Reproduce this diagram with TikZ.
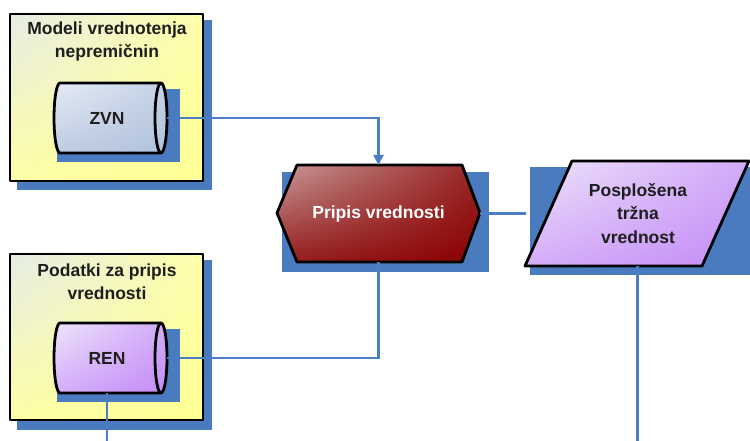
\documentclass[tikz,border=0pt]{standalone}
\usepackage{fontspec}
\setmainfont{Liberation Sans}
\usetikzlibrary{arrows.meta,shadings}
\definecolor{shadowblue}{HTML}{4A7BBE}
\definecolor{linkblue}{HTML}{4A7EC6}
\definecolor{inktext}{HTML}{1E1E1E}
\definecolor{ylA}{HTML}{E6ECE6}\definecolor{ylB}{HTML}{FFFFAA}
\definecolor{ylC}{HTML}{FEFEA6}\definecolor{ylD}{HTML}{FFFF94}
\definecolor{blA}{HTML}{E5EBF5}\definecolor{blB}{HTML}{C4D2E6}
\definecolor{blC}{HTML}{BECCE2}\definecolor{blD}{HTML}{B0C2DC}
\definecolor{vlA}{HTML}{EEE4FA}\definecolor{vlB}{HTML}{D2AAF8}
\definecolor{vlC}{HTML}{D4AEF8}\definecolor{vlD}{HTML}{C48CF8}
\definecolor{rdA}{HTML}{C89A9A}\definecolor{rdB}{HTML}{982424}
\definecolor{rdC}{HTML}{951E1E}\definecolor{rdD}{HTML}{8A0000}
\tikzset{
  backshadow/.style={fill=shadowblue, draw=none},
  outline/.style={draw=black, line width=2.8pt, line join=round},
  yellowpanel/.style={outline, upper left=ylA, upper right=ylB,
    lower left=ylC, lower right=ylD},
  bluedrum/.style={outline, upper left=blA, upper right=blB,
    lower left=blC, lower right=blD},
  violetfill/.style={outline, upper left=vlA, upper right=vlB,
    lower left=vlC, lower right=vlD},
  redfill/.style={outline, upper left=rdA, upper right=rdB,
    lower left=rdC, lower right=rdD},
  label/.style={font=\bfseries\fontsize{17.5}{23}\selectfont, text=inktext, align=center,
    inner sep=0pt},
  holder/.style={draw=none, inner sep=0pt, outer sep=0pt},
  link/.style={draw=linkblue, line width=2.5pt},
}
\begin{document}
\begin{tikzpicture}[x=1pt,y=1pt]
\useasboundingbox (0,0) rectangle (750,441);

% ---- panel: valuation models ----
\fill[backshadow] (17,251) rectangle (212,421);
\node[holder, minimum width=193pt, minimum height=167pt] (models) at (106.5,343.5) {};
\shadedraw[yellowpanel] (models.south west) rectangle (models.north east);
\node[label] (modelsT) at (107,399.5) {Modeli vrednotenja\\nepremičnin};

% ZVN drum
\fill[backshadow] (57,279) rectangle (180,352);
\shadedraw[bluedrum] (60,358) -- (161,358)
  arc[start angle=90, end angle=-90, x radius=6pt, y radius=35pt] -- (60,288)
  arc[start angle=270, end angle=90, x radius=6pt, y radius=35pt] -- cycle;
\draw[outline] (161,358) arc[start angle=90, end angle=270, x radius=6pt, y radius=35pt];
\node[holder, minimum width=120pt, minimum height=70pt, label] (zvn) at (107,323) {ZVN};

% ---- panel: data for value assignment ----
\fill[backshadow] (17,11) rectangle (212,181);
\node[holder, minimum width=193pt, minimum height=166pt] (data) at (106.5,104) {};
\shadedraw[yellowpanel] (data.south west) rectangle (data.north east);
\node[label] (dataT) at (107,159.5) {Podatki za pripis\\vrednosti};

% REN drum
\fill[backshadow] (57,39) rectangle (180,112);
\shadedraw[violetfill] (60,118) -- (161,118)
  arc[start angle=90, end angle=-90, x radius=6pt, y radius=35pt] -- (60,48)
  arc[start angle=270, end angle=90, x radius=6pt, y radius=35pt] -- cycle;
\draw[outline] (161,118) arc[start angle=90, end angle=270, x radius=6pt, y radius=35pt];
\node[holder, minimum width=120pt, minimum height=70pt, label] (ren) at (107,83) {REN};

% ---- value assignment step ----
\fill[backshadow] (282,169) rectangle (489,269);
\shadedraw[redfill] (277,228) -- (297,276) -- (462,276) -- (480,228) -- (462,179) -- (297,179) -- cycle;
\node[holder, minimum width=203pt, minimum height=97pt, label, text=white] (pripis)
  at (378.5,227.5) {Pripis vrednosti};

% ---- result ----
\node[holder, minimum width=224pt, minimum height=105pt] (trzna) at (637.5,227.5) {};
\draw[link] (pripis.east) -- (trzna.west);
\fill[backshadow] (530,166) rectangle (755,274);
\shadedraw[violetfill] (572,280) -- (749,280) -- (702,175) -- (525,175) -- cycle;
\node[label] (trznaT) at (638,227.5) {Posplošena\\[0.5pt]tržna\\[0.5pt]vrednost};

% ---- connectors ----
\coordinate (outA) at (637.5,0);
\coordinate (outB) at (107,0);
\draw[link, -{Triangle[length=10pt, width=10pt]}] (zvn.east) -| (pripis.north);
\draw[link] (ren.east) -| (pripis.south);
\draw[link] (trzna.south) -- (outA);
\draw[link] (ren.south) -- (outB);
\end{tikzpicture}
\end{document}
